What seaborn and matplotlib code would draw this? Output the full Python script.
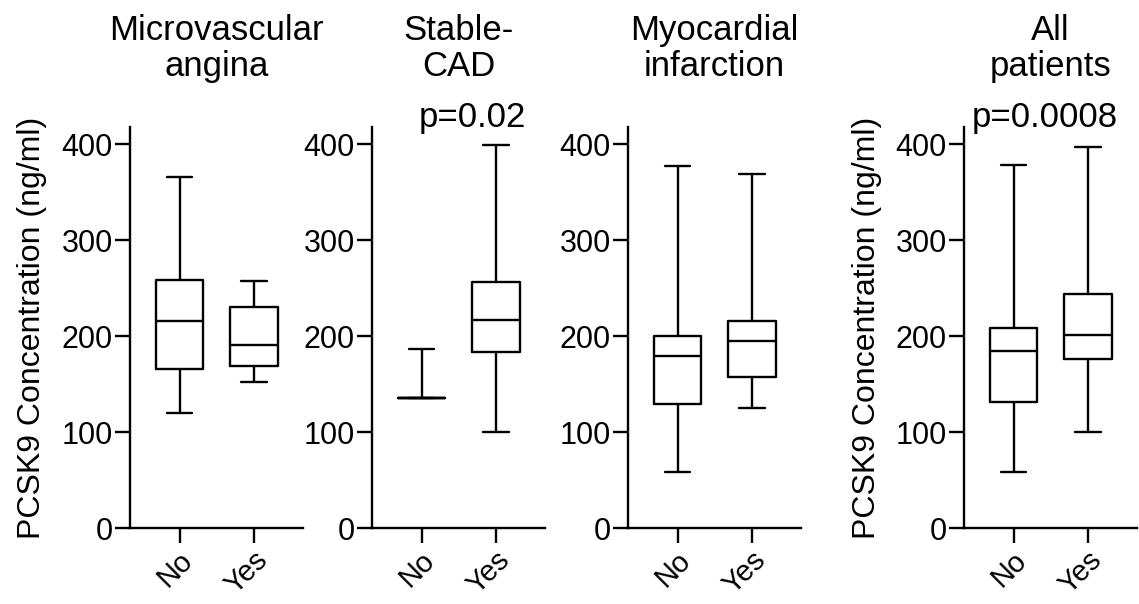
import seaborn as sns
import matplotlib.pyplot as plt
import matplotlib.transforms as mtransforms
import pandas as pd

groups = ["No", "Yes"]
# five-number summaries: min, Q1, median, Q3, max
micro_no = [120, 166, 216, 258, 366]
micro_yes = [152, 169, 191, 230, 257]
stable_no = [136, 136, 136, 136, 187]
stable_yes = [100, 183, 217, 256, 399]
mi_no = [58, 129, 179, 200, 377]
mi_yes = [125, 157, 195, 216, 369]
all_no = [58, 131, 184, 209, 378]
all_yes = [100, 176, 201, 244, 397]

titles = ["Microvascular\nangina", "Stable-\nCAD", "Myocardial\ninfarction", "All\npatients"]
pvals = [None, "p=0.02", None, "p=0.0008"]
p_x = [None, 0.68, None, 0.42]
show_ylabel = [True, False, False, True]
yticks = [0, 100, 200, 300, 400]

sns.set_style("ticks")
plt.rcParams["font.family"] = ["Liberation Sans", "DejaVu Sans"]
for key in ["text.color", "axes.labelcolor", "xtick.color", "ytick.color", "axes.edgecolor"]:
    plt.rcParams[key] = "black"

fig = plt.figure(figsize=(11.39, 6.04), dpi=100)
lefts = [130, 372, 628, 964]
panels = [(micro_no, micro_yes), (stable_no, stable_yes), (mi_no, mi_yes), (all_no, all_yes)]
shift = mtransforms.ScaledTranslation(-1 / 100, 0, fig.dpi_scale_trans)

for i, (no_vals, yes_vals) in enumerate(panels):
    ax = fig.add_axes([lefts[i] / 1139, 76 / 604, 173 / 1139, 401 / 604])
    df = pd.DataFrame({"group": ["No"] * len(no_vals) + ["Yes"] * len(yes_vals),
                       "value": no_vals + yes_vals})
    sns.boxplot(data=df, x="group", y="value", order=groups, ax=ax, fill=False,
                color="black", width=0.635, whis=(0, 100), linewidth=1.7,
                capwidths=0.34)
    ax.set_xlim(-0.67, 1.66)
    ax.set_ylim(0, 418)
    ax.set_yticks(yticks)
    sns.despine(ax=ax)
    for s in ["left", "bottom"]:
        ax.spines[s].set_linewidth(1.7)
    ax.tick_params(axis="both", length=11, width=1.7, labelsize=22)
    ax.tick_params(axis="y", pad=1.5)
    ax.tick_params(axis="x", pad=2, labelsize=21)
    for lab in ax.get_xticklabels():
        lab.set_rotation(45)
        lab.set_ha("right")
        lab.set_rotation_mode("anchor")
        lab.set_transform(lab.get_transform() + shift)
    ax.set_xlabel("")
    if show_ylabel[i]:
        ax.set_ylabel("PCSK9 Concentration (ng/ml)", fontsize=23, labelpad=10)
    else:
        ax.set_ylabel("")
    ax.set_title(titles[i], fontsize=25, pad=37, linespacing=1.1)
    if pvals[i]:
        trans = mtransforms.blended_transform_factory(ax.transData, ax.transAxes)
        ax.text(p_x[i], 1.0, pvals[i], transform=trans, ha="center",
                va="baseline", fontsize=25, clip_on=False)

fig.savefig("out.png", dpi=100)
